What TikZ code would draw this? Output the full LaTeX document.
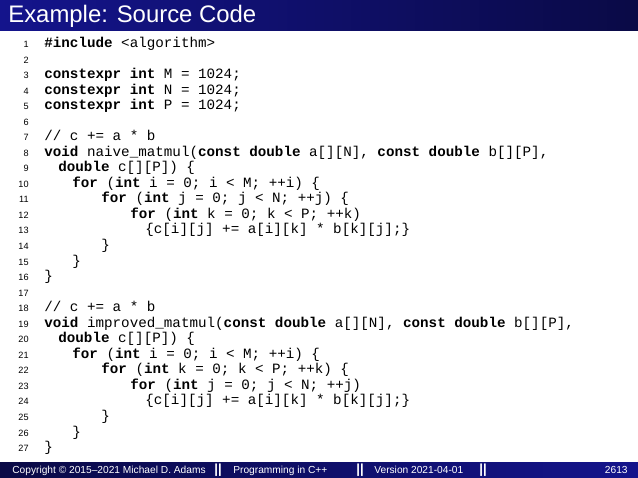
\documentclass[tikz,border=0pt]{standalone}
\usepackage{fontspec}
\setmainfont{Liberation Sans}
\setsansfont{Liberation Sans}
\setmonofont{Liberation Mono}
\definecolor{bardark}{RGB}{10,10,70}
\definecolor{barblue}{RGB}{20,20,140}
\newcommand{\kw}[1]{\textbf{#1}}
\tikzset{code/.style={anchor=base west,inner sep=0pt,font=\ttfamily\fontsize{8.1}{9}\selectfont},
lnum/.style={anchor=base east,inner sep=0pt,font=\sffamily\fontsize{5.2}{6}\selectfont},
foot/.style={anchor=base west,inner sep=0pt,text=white,font=\sffamily\fontsize{5.8}{6}\selectfont},
sep/.style={anchor=base west,inner sep=0pt,text=white,font=\sffamily\bfseries\fontsize{7.5}{7}\selectfont}}
\begin{document}
\begin{tikzpicture}[x=0.2mm,y=-0.2mm]
\useasboundingbox (0,0) rectangle (638,478);
\fill[white] (0,0) rectangle (638,478);
\shade[left color=barblue,right color=bardark] (0,0) rectangle (638,30);
\node[anchor=base west,inner sep=0pt,text=white,font=\sffamily\fontsize{13.6}{15}\selectfont] (title) at (8,22) {Example: Source Code};
\shade[left color=bardark,right color=barblue] (0,462) rectangle (638,478);
\node[foot] (f1) at (12,473) {Copyright \textcopyright{} 2015--2021 Michael D. Adams};
\node[sep] (s1) at (214,473.5) {||};
\node[foot] (f2) at (233,473) {Programming in C++};
\node[sep] (s2) at (356,473.5) {||};
\node[foot] (f3) at (374,473) {Version 2021-04-01};
\node[sep] (s3) at (479,473.5) {||};
\node[foot,anchor=base east] (f4) at (628,473) {2613};
\foreach \n/\x/\t in {
1/44/{\kw{\#include} <algorithm>},
2/44/{},
3/44/{\kw{constexpr} \kw{int} M = 1024;},
4/44/{\kw{constexpr} \kw{int} N = 1024;},
5/44/{\kw{constexpr} \kw{int} P = 1024;},
6/44/{},
7/44/{// c += a * b},
8/44/{\kw{void} naive\_matmul(\kw{const} \kw{double} a[][N], \kw{const} \kw{double} b[][P],},
9/58/{\kw{double} c[][P]) \{},
10/72/{\kw{for} (\kw{int} i = 0; i < M; ++i) \{},
11/101/{\kw{for} (\kw{int} j = 0; j < N; ++j) \{},
12/130/{\kw{for} (\kw{int} k = 0; k < P; ++k)},
13/145/{\{c[i][j] += a[i][k] * b[k][j];\}},
14/101/{\}},
15/72/{\}},
16/44/{\}},
17/44/{},
18/44/{// c += a * b},
19/44/{\kw{void} improved\_matmul(\kw{const} \kw{double} a[][N], \kw{const} \kw{double} b[][P],},
20/58/{\kw{double} c[][P]) \{},
21/72/{\kw{for} (\kw{int} i = 0; i < M; ++i) \{},
22/101/{\kw{for} (\kw{int} k = 0; k < P; ++k) \{},
23/130/{\kw{for} (\kw{int} j = 0; j < N; ++j)},
24/145/{\{c[i][j] += a[i][k] * b[k][j];\}},
25/101/{\}},
26/72/{\}},
27/44/{\}}}{
\node[lnum] (n\n) at (29,{47.5+(\n-1)*15.54}) {\n};
\node[code] (c\n) at (\x,{47.5+(\n-1)*15.54}) {\t};
}
\end{tikzpicture}
\end{document}
